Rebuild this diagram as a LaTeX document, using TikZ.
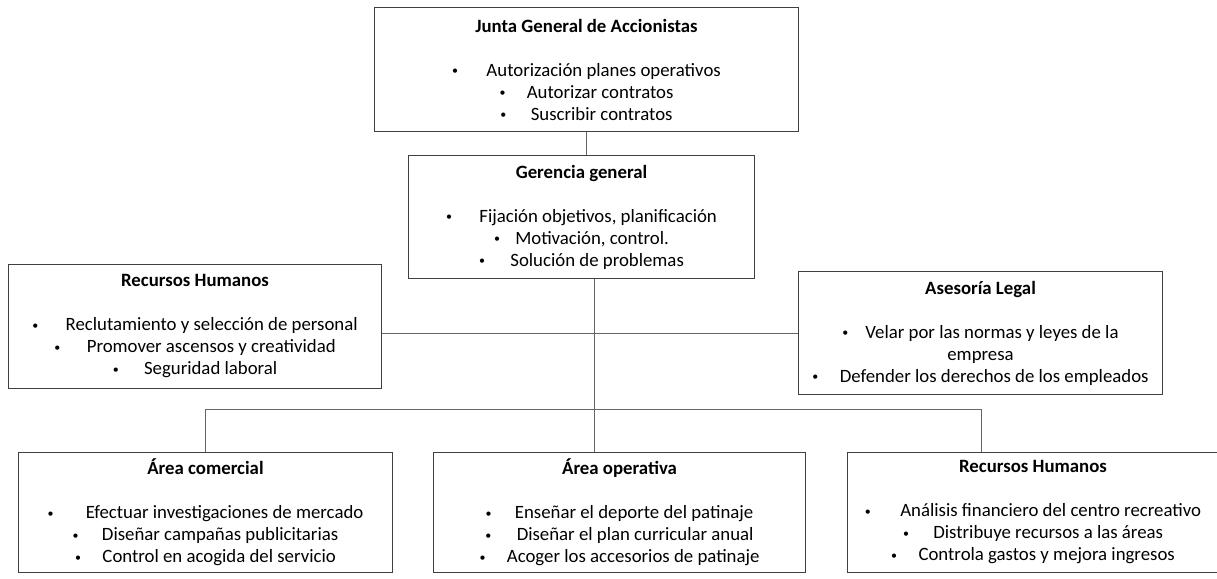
\documentclass[tikz,border=0pt]{standalone}
\usepackage{fontspec}
\setmainfont{Carlito}
\usetikzlibrary{positioning,shapes}

\newcommand{\itm}[2][1.2em]{\raisebox{1.6pt}{\fontsize{12}{12}\selectfont\textbullet}\hspace{#1}\hspace{2pt}#2}

\begin{document}
\begin{tikzpicture}[x=1pt,y=-1pt]

  \tikzstyle{box}=[draw=black!75,line width=1pt,align=center,inner sep=0pt,
                   anchor=north west,font=\fontsize{18.8}{22}\selectfont]
  \tikzstyle{link}=[draw=black!60,line width=1pt]

  \useasboundingbox (0,0) rectangle (1217,578);

  % Direction
  \node [box,minimum width=424pt,minimum height=124pt] (junta) at (374,7)
    {\textbf{Junta General de Accionistas}\\[22pt]
     \itm[1.4em]{Autorización planes operativos}\\
     \itm[1.03em]{Autorizar contratos}\\
     \itm[1.19em]{Suscribir contratos}};
  \node [box,minimum width=346pt,minimum height=123pt] (gerencia) at (408,155)
    {\textbf{Gerencia general}\\[22pt]
     \itm[1.35em]{Fijación objetivos, planificación}\\
     \itm[0.7em]{Motivación, control.}\\
     \itm[1.24em]{Solución de problemas}};

  % Staff
  \node [box,minimum width=373pt,minimum height=124pt] (rhA) at (8,264)
    {\textbf{Recursos Humanos}\\[22pt]
     \itm[1.35em]{Reclutamiento y selección de personal}\\
     \itm[1.3em]{Promover ascensos y creatividad}\\
     \itm[1.24em]{Seguridad laboral}};
  \node [box,minimum width=364pt,minimum height=123pt] (legal) at (798,271)
    {\textbf{Asesoría Legal}\\[22pt]
     \itm[0.8em]{Velar por las normas y leyes de la}\\
     empresa\\
     \itm[1.03em]{Defender los derechos de los empleados}};

  % Areas
  \node [box,minimum width=374pt,minimum height=120pt] (comercial) at (18,452)
    {\textbf{Área comercial}\\[22pt]
     \itm[1.6em]{Efectuar investigaciones de mercado}\\
     \itm[1.13em]{Diseñar campañas publicitarias}\\
     \itm[1.03em]{Control en acogida del servicio}};
  \node [box,minimum width=372pt,minimum height=120pt] (operativa) at (433,452)
    {\textbf{Área operativa}\\[22pt]
     \itm[1.13em]{Enseñar el deporte del patinaje}\\
     \itm[1.24em]{Diseñar el plan curricular anual}\\
     \itm[1.03em]{Acoger los accesorios de patinaje}};
  \node [box,minimum width=371pt,minimum height=120pt] (finanzas) at (847,452)
    {\textbf{Recursos Humanos}\\[22pt]
     \itm[1.46em]{Análisis financiero del centro recreativo}\\
     \itm[1.19em]{Distribuye recursos a las áreas}\\
     \itm[1.03em]{Controla gastos y mejora ingresos}};

  % Connectors
  \coordinate (spine) at ([xshift=13pt]gerencia.south);
  \coordinate (busR)  at (981,409);

  \draw [link] (junta.south) -- (junta.south |- gerencia.north);
  \draw [link] (spine) -- (spine |- operativa.north);
  \draw [link] (legal.west) -- (legal.west -| rhA.east);
  \draw [link] (comercial.north) |- (busR) -- (busR |- finanzas.north);
\end{tikzpicture}
\end{document}
